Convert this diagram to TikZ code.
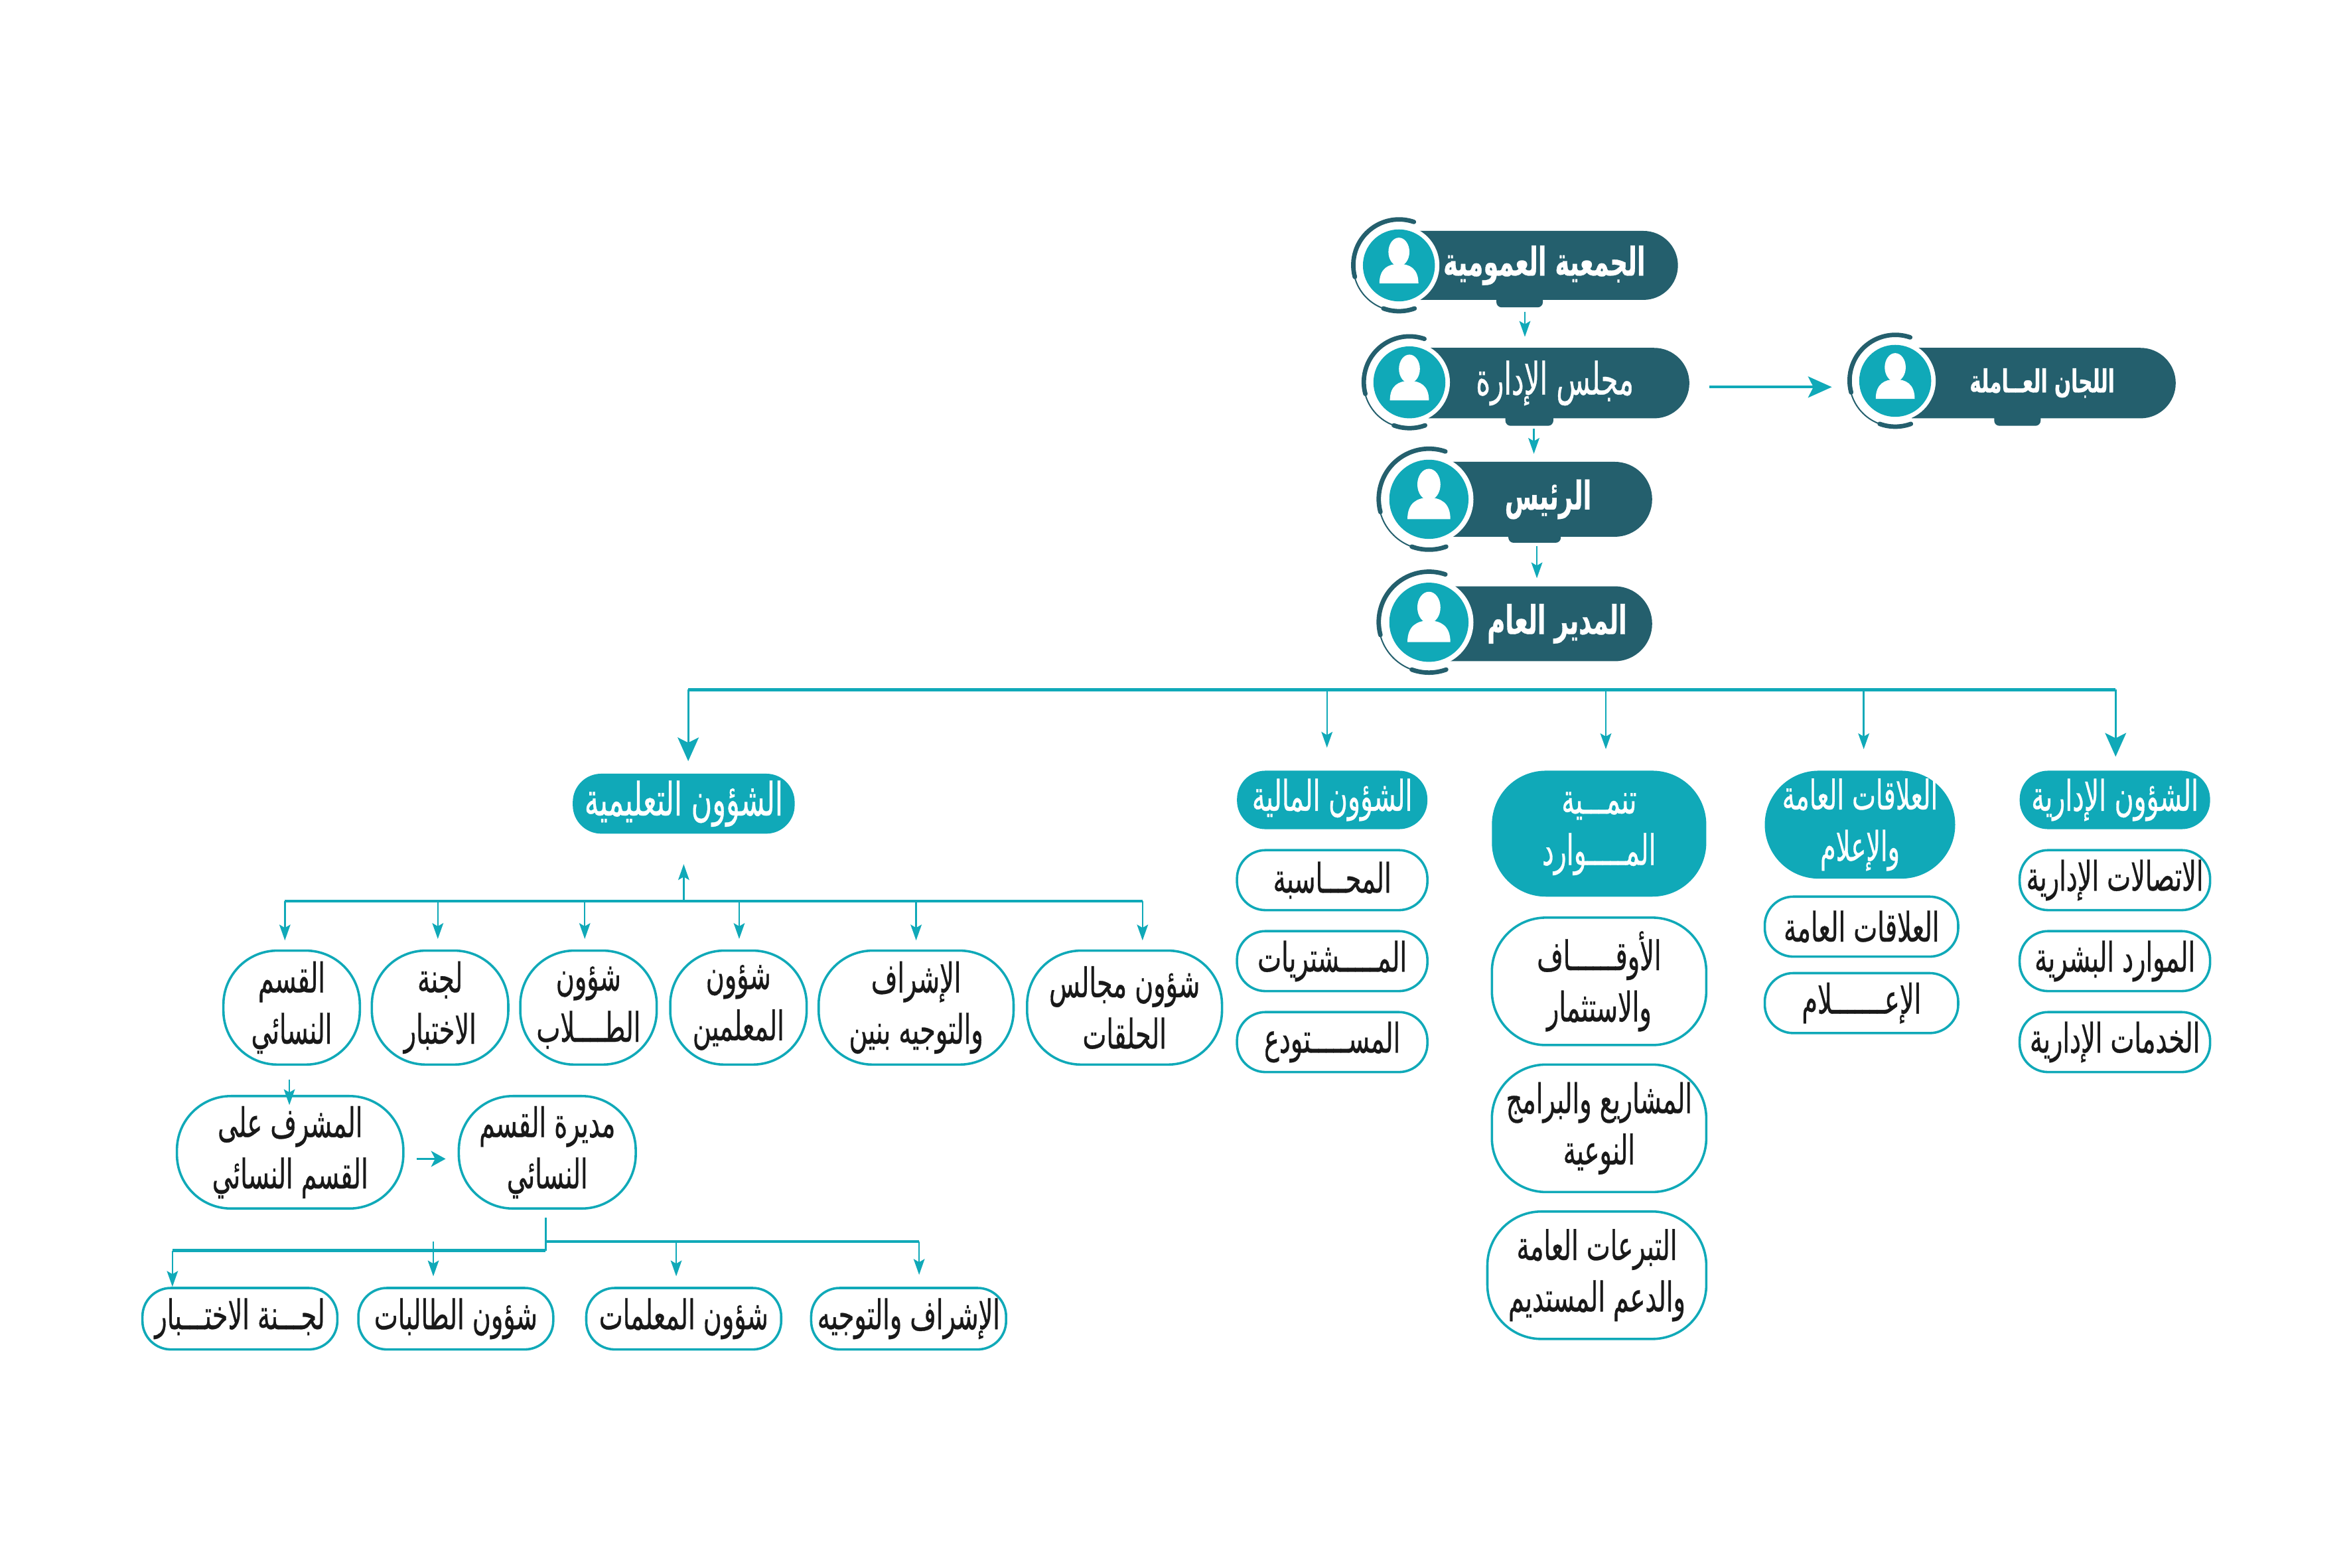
\documentclass[tikz,border=0pt]{standalone}
\usepackage{xcolor}
\usepackage{fontspec}
\usetikzlibrary{arrows.meta,shapes.misc}
\TeXXeTstate=1
\newfontfamily\arabicfont[Script=Arabic,FakeStretch=0.62,FakeBold=0.5]{DejaVu Sans}
\newcommand{\ar}[1]{\beginR #1\endR}
\definecolor{tealmain}{HTML}{10A9B8}
\definecolor{tealdark}{HTML}{245F6D}
\tikzset{
  wh/.style 2 args={minimum width=#1*0.02cm, minimum height=#2*0.02cm, inner sep=0pt},
  darkpill/.style={rounded rectangle, rounded rectangle west arc=none, fill=tealdark, text=white, align=center,
    font=\fontsize{15}{18}\selectfont\arabicfont\bfseries},
  headbox/.style={fill=tealmain, text=white, rounded corners=0.38cm, align=center,
    font=\fontsize{16}{19.5}\selectfont\arabicfont},
  linebox/.style={draw=tealmain, line width=0.9pt, fill=white, text=black!90, rounded corners=0.38cm, align=center,
    font=\fontsize{15.5}{19.5}\selectfont\arabicfont},
  tall/.style={rounded corners=0.72cm},
  busline/.style={draw=tealmain, line width=1.2pt},
  thinarr/.style={draw=tealmain, line width=0.6pt, -{Stealth[inset=1.2pt,length=6pt,width=4.2pt]}},
  bigarr/.style={draw=tealmain, line width=1.1pt, -{Stealth[inset=2pt,length=9pt,width=8pt]}},
  midarr/.style={draw=tealmain, line width=0.9pt, -{Stealth[inset=1.5pt,length=5.5pt,width=6pt]}},
  person/.pic={
    \fill[white] (0,0) circle (27);
    \fill[tealmain] (0,0) circle (24);
    \fill[white] (0,9) ellipse (7 and 9.5);
    \fill[white] (-13,-12) .. controls (-13,-2) and (-7,1) .. (0,1) .. controls (7,1) and (13,-2) .. (13,-12) -- cycle;
    \draw[tealdark, line width=1.7pt, line cap=round] (10,29) arc[start angle=71,end angle=195,radius=30.5];
    \draw[tealdark, line width=0.5pt] (-29.5,-7.9) arc[start angle=195,end angle=250,radius=30.5];
    \draw[tealdark, line width=1.7pt, line cap=round] (-10.4,-28.7) arc[start angle=250,end angle=290,radius=30.5];
  }
}

\begin{document}
\begin{tikzpicture}[x=0.02cm,y=0.02cm]
  \useasboundingbox (0,0) rectangle (1568,-1045.33);
  \fill[tealdark, rounded corners=2pt] (998,-195) rectangle (1029,-205);
  \fill[tealdark, rounded corners=2pt] (1004,-274) rectangle (1036,-284);
  \fill[tealdark, rounded corners=2pt] (1330,-274) rectangle (1361,-284);
  \fill[tealdark, rounded corners=2pt] (1006,-353) rectangle (1041,-362);

  \node[darkpill, wh={174}{46}] (jamia) at (1030,-177) {\ar{الجمعية العمومية}};
  \node[darkpill, wh={174}{47}, font=\fontsize{17}{19}\selectfont\arabicfont] (majlis) at (1037,-255.5) {\ar{مجلس الإدارة}};
  \node[darkpill, wh={176}{47}, font=\fontsize{12}{14}\selectfont\arabicfont\bfseries] (lijan) at (1362,-255.5) {\ar{اللجان العــاملة}};
  \node[darkpill, wh={135}{50}] (rais) at (1032.5,-333) {\ar{الرئيس}};
  \node[darkpill, wh={135}{50}] (mudir) at (1032.5,-416) {\hspace*{0.24cm}\ar{المدير العام}};
  \pic at (933,-177) {person};
  \pic at (940,-255) {person};
  \pic at (1264,-254) {person};
  \pic[scale=1.1] at (953,-333) {person};
  \pic[scale=1.1] at (953,-415) {person};

  \coordinate (top1) at (1017,-208);
  \coordinate (top2) at (1023,-286);
  \coordinate (top3) at (1025,-364);
  \draw[thinarr, shorten >=0.14cm] (top1) -- (top1 |- majlis.north);
  \draw[thinarr, shorten >=0.1cm] (top2) -- (top2 |- rais.north);
  \draw[thinarr, shorten >=0.1cm] (top3) -- (top3 |- mudir.north);
  \draw[bigarr, shorten <=0.26cm, shorten >=1.06cm] ([yshift=-1.5pt]majlis.east) -- ([yshift=-1.5pt]lijan.west);

  \node[headbox, wh={127}{39}] (idari) at (1410.5,-533.5) {\ar{الشؤون الإدارية}};
  \node[linebox, wh={127}{40}] (ittisal) at (1410.5,-587) {\ar{الاتصالات الإدارية}};
  \node[linebox, wh={127}{40}] (mawarid) at (1410.5,-641) {\ar{الموارد البشرية}};
  \node[linebox, wh={127}{40}] (khadamat) at (1410.5,-695) {\ar{الخدمات الإدارية}};

  \node[headbox, tall, wh={127}{72}, font=\fontsize{15.5}{19.5}\selectfont\arabicfont] (alaqat) at (1240.5,-550) {\ar{العلاقات العامة}\\\ar{والإعلام}};
  \node[linebox, wh={129}{40}] (alaqa) at (1241.5,-618) {\ar{العلاقات العامة}};
  \node[linebox, wh={129}{40}] (ilam) at (1241.5,-669) {\ar{الإعـــــــلام}};

  \node[headbox, tall, wh={143}{84}] (tanmia) at (1066.5,-556) {\ar{تنمـــية}\\\ar{المـــــوارد}};
  \node[linebox, tall, wh={143}{85}] (awqaf) at (1066.5,-654.5) {\ar{الأوقــــــاف}\\\ar{والاستثمار}};
  \node[linebox, tall, wh={143}{85}] (mashari) at (1066.5,-752.5) {\ar{المشاريع والبرامج}\\\ar{النوعية}};
  \node[linebox, tall, wh={146}{85}] (tabarru) at (1065,-850.5) {\ar{التبرعات العامة}\\\ar{والدعم المستديم}};

  \node[headbox, wh={127}{39}] (mali) at (888.5,-533.5) {\ar{الشؤون المالية}};
  \node[linebox, wh={127}{40}] (muhasaba) at (888.5,-587) {\ar{المحـــاسبة}};
  \node[linebox, wh={127}{40}] (mushtariat) at (888.5,-641) {\ar{المـــــشتريات}};
  \node[linebox, wh={127}{40}] (mustawda) at (888.5,-695) {\ar{المســـــتودع}};

  \node[headbox, wh={148}{40}, font=\fontsize{17.5}{19.5}\selectfont\arabicfont] (talim) at (456,-536) {\ar{الشؤون التعليمية}};

  \node[linebox, tall, wh={130}{76}] (majalis) at (750,-672) {\ar{شؤون مجالس}\\\ar{الحلقات}};
  \node[linebox, tall, wh={130}{76}] (bunin) at (611,-672) {\ar{الإشراف}\\\ar{والتوجيه بنين}};
  \node[linebox, tall, wh={91}{76}] (muallimin) at (492.5,-672) {\ar{شؤون}\\\ar{المعلمين}};
  \node[linebox, tall, wh={91}{76}] (tullab) at (392.5,-672) {\ar{شؤون}\\\ar{الطــــلاب}};
  \node[linebox, tall, wh={91}{76}] (ikhtibar) at (293.5,-672) {\ar{لجنة}\\\ar{الاختبار}};
  \node[linebox, tall, wh={91}{76}] (nisai) at (194.5,-672) {\ar{القسم}\\\ar{النسائي}};

  \node[linebox, tall, wh={151}{75}] (mushrif) at (193.5,-768.5) {\ar{المشرف على}\\\ar{القسم النسائي}};
  \node[linebox, tall, wh={118}{75}] (mudira) at (365,-768.5) {\ar{مديرة القسم}\\\ar{النسائي}};

  \node[linebox, wh={130}{41}] (lajna) at (160,-879.5) {\ar{لجـــنة الاختـــبار}};
  \node[linebox, wh={130}{41}] (talibat) at (304,-879.5) {\ar{شؤون الطالبات}};
  \node[linebox, wh={130}{41}] (muallimat) at (456,-879.5) {\ar{شؤون المعلمات}};
  \node[linebox, wh={130}{41}] (tawjih) at (606,-879.5) {\ar{الإشراف والتوجيه}};

  \coordinate (busW) at (459,-460);
  \coordinate (busE) at (1411,-460);
  \coordinate (busA) at (885,-460);
  \coordinate (busB) at (1071,-460);
  \coordinate (busC) at (1243,-460);
  \draw[busline] (busW) -- (busE);
  \draw[bigarr, line width=0.8pt, shorten >=0.16cm] (busW) -- (busW |- talim.north);
  \draw[bigarr, line width=0.8pt, shorten >=0.18cm] (busE) -- (busE |- idari.north);
  \draw[thinarr, shorten >=0.3cm] (busA) -- (busA |- mali.north);
  \draw[thinarr, shorten >=0.28cm] (busB) -- (busB |- tanmia.north);
  \draw[thinarr, shorten >=0.28cm] (busC) -- (busC |- alaqat.north);

  \coordinate (eduW) at (190,-601);
  \coordinate (eduE) at (762,-601);
  \coordinate (eduUp) at (456,-601);
  \coordinate (eduB) at (292,-601);
  \coordinate (eduC) at (390,-601);
  \coordinate (eduD) at (493,-601);
  \coordinate (eduF) at (611,-601);
  \draw[busline] (eduW) -- (eduE);
  \draw[thinarr, shorten >=0.4cm] (eduUp) -- (eduUp |- talim.south);
  \draw[thinarr, shorten >=0.12cm] (eduW) -- (eduW |- nisai.north);
  \draw[thinarr, shorten >=0.14cm] (eduB) -- (eduB |- ikhtibar.north);
  \draw[thinarr, shorten >=0.14cm] (eduC) -- (eduC |- tullab.north);
  \draw[thinarr, shorten >=0.14cm] (eduD) -- (eduD |- muallimin.north);
  \draw[thinarr, shorten >=0.12cm] (eduF) -- (eduF |- bunin.north);
  \draw[thinarr, shorten >=0.12cm] (eduE) -- (eduE |- majalis.north);

  \coordinate (nisaiA) at (193,-720);
  \coordinate (nisaiB) at (193,-737);
  \draw[thinarr] (nisaiA) -- (nisaiB);
  \draw[midarr, shorten <=0.16cm, shorten >=0.16cm] ([yshift=-2.5pt]mushrif.east) -- ([yshift=-2.5pt]mudira.west);

  \coordinate (femTop) at (364,-812);
  \coordinate (femL) at (364,-834);
  \coordinate (femR) at (364,-828);
  \coordinate (femA) at (115,-834);
  \coordinate (femB) at (289,-828);
  \coordinate (femC) at (451,-828);
  \coordinate (femD) at (613,-828);
  \draw[draw=tealmain, line width=0.7pt] (femTop) -- (femL);
  \draw[busline] (femL) -- (femA);
  \draw[busline] (femR) -- (femD);
  \draw[thinarr] (femA) -- (femA |- lajna.north);
  \draw[thinarr, shorten >=0.14cm] (femB) -- (femB |- talibat.north);
  \draw[thinarr, shorten >=0.14cm] (femC) -- (femC |- muallimat.north);
  \draw[thinarr, shorten >=0.16cm] (femD) -- (femD |- tawjih.north);
\end{tikzpicture}
\end{document}
